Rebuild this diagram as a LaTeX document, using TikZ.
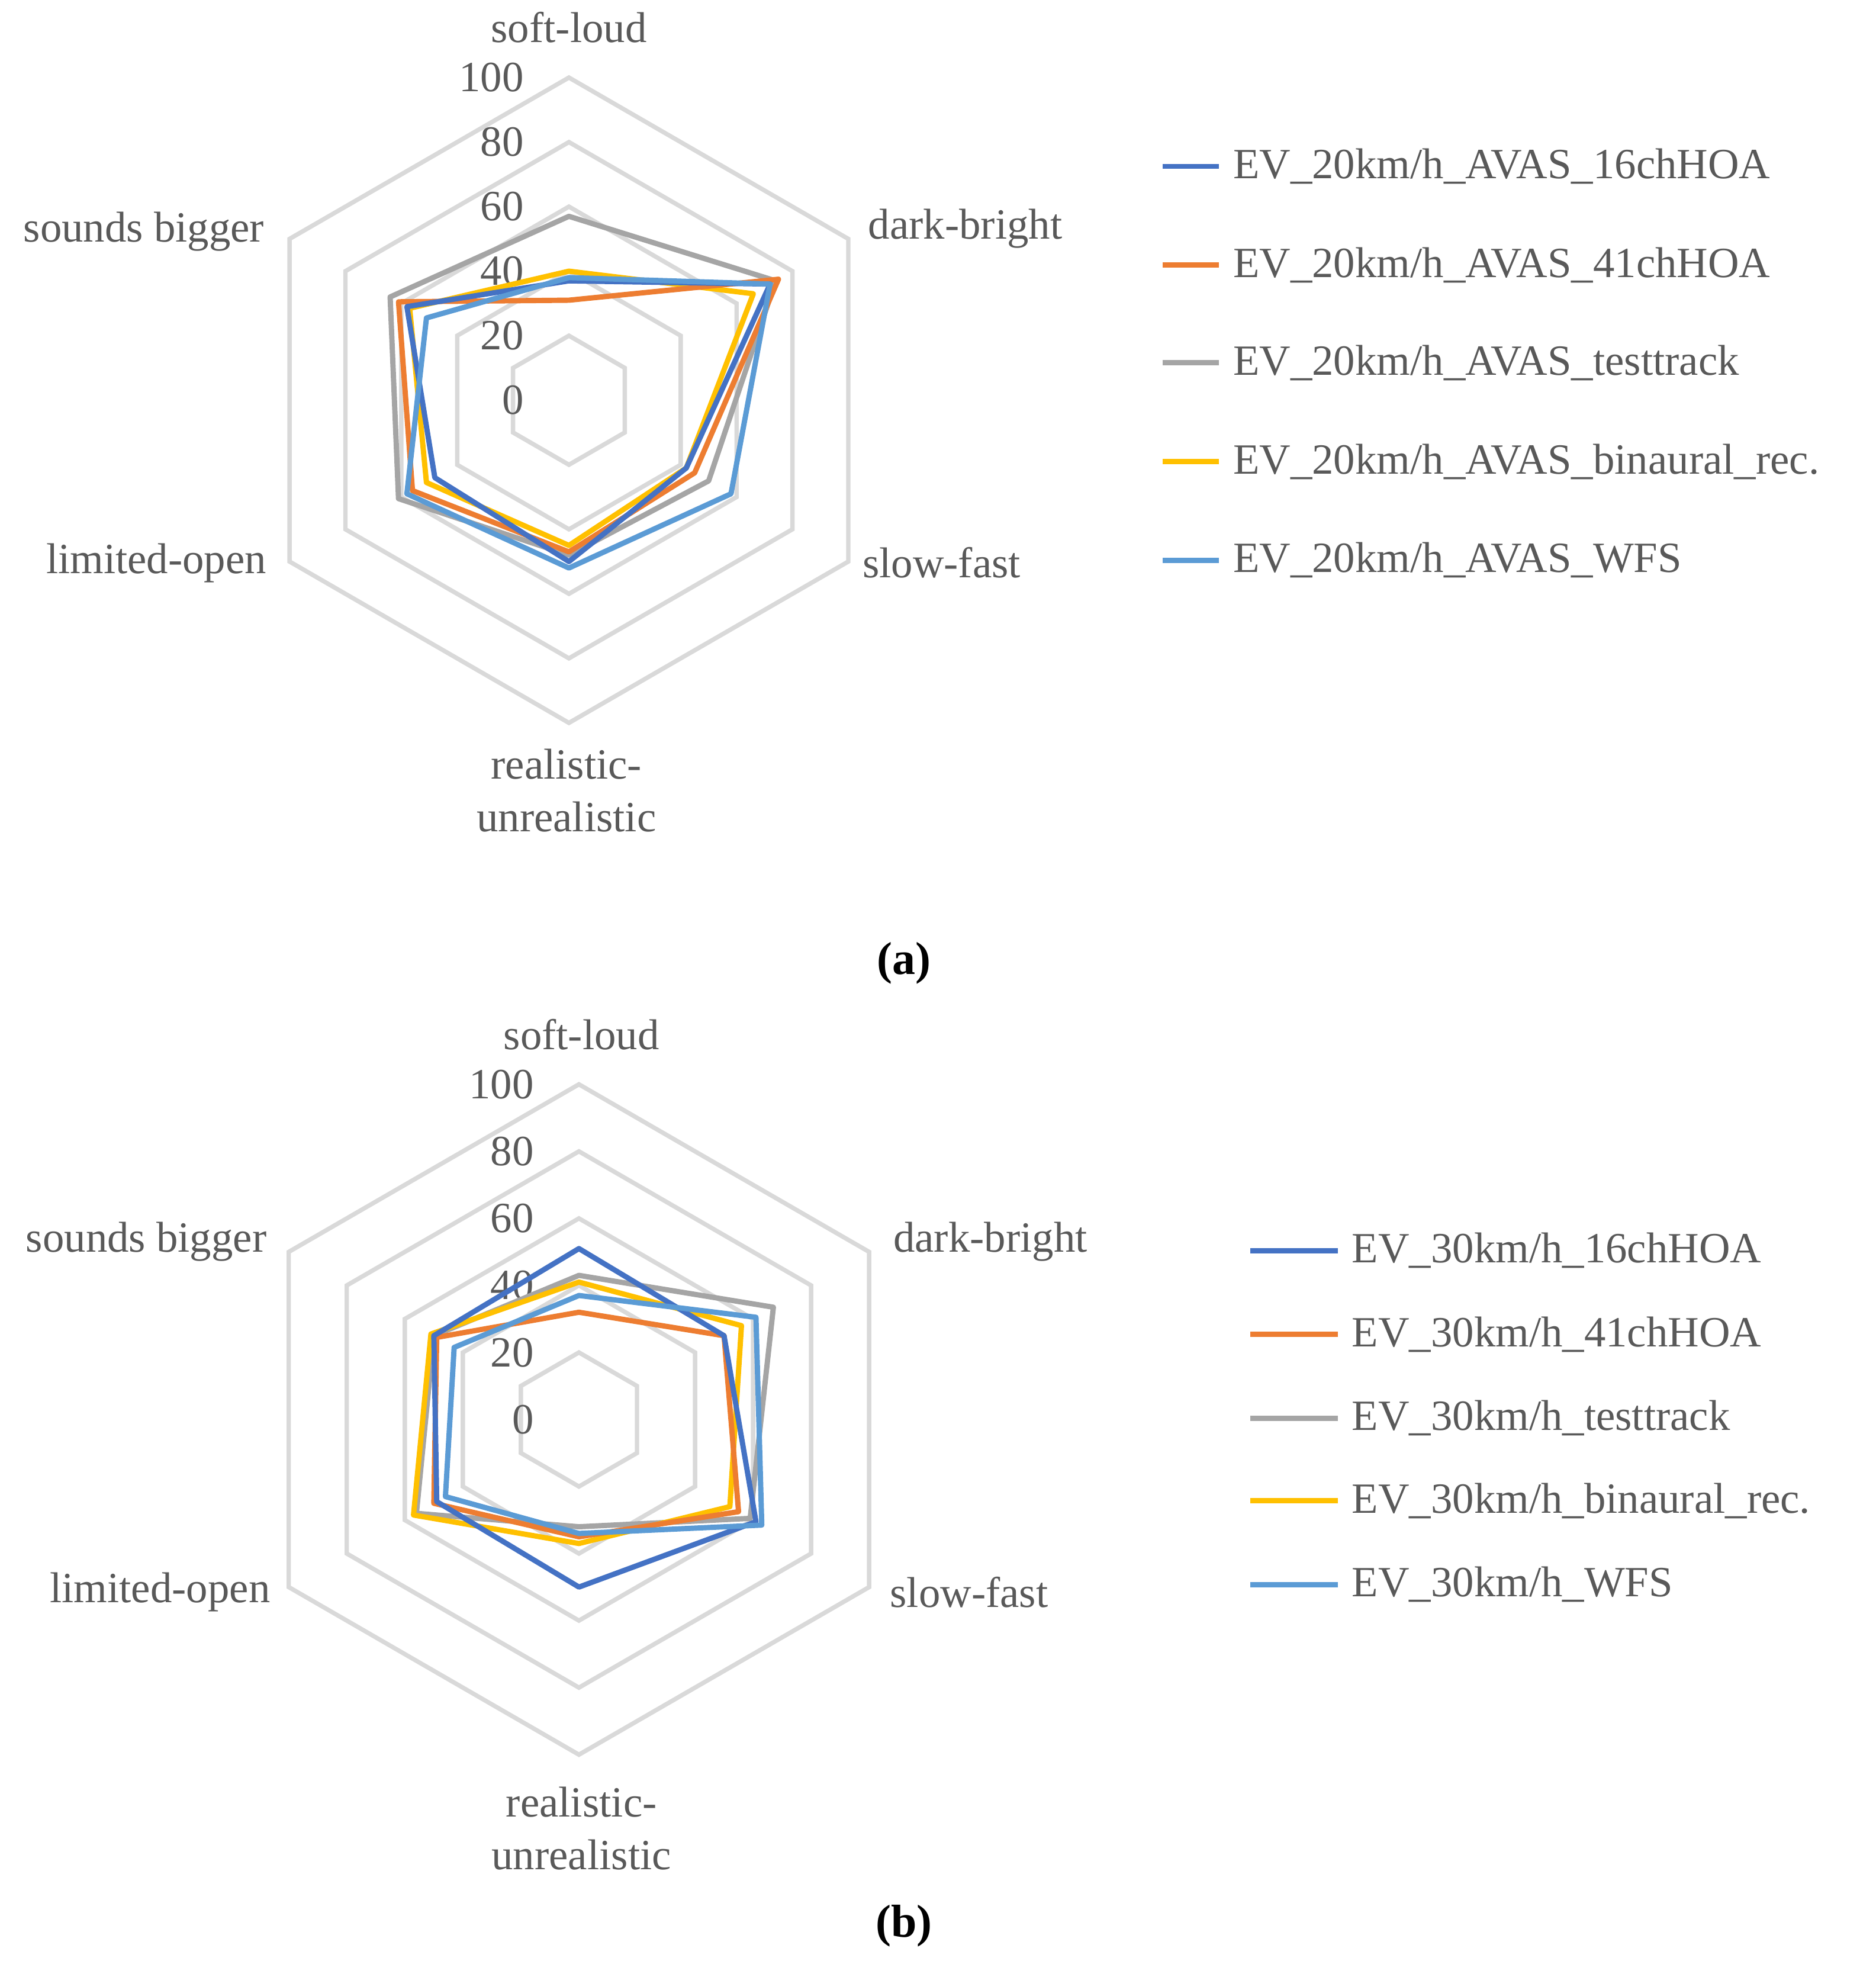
\documentclass[tikz,border=0pt]{standalone}
\usepackage{fontspec}
\setmainfont{Liberation Serif}
\usetikzlibrary{calc}
\definecolor{cA}{HTML}{4472C4}
\definecolor{cB}{HTML}{ED7D31}
\definecolor{cC}{HTML}{A5A5A5}
\definecolor{cD}{HTML}{FFC000}
\definecolor{cE}{HTML}{5B9BD5}
\definecolor{grd}{HTML}{D9D9D9}
\definecolor{txt}{HTML}{595959}
\newcommand\rplot[3]{%
  \foreach \v [count=\i] in {#2} {\coordinate (p\i) at ({90-60*(\i-1)}:{\v*#3});}
  \draw[dat,#1] (p1)--(p2)--(p3)--(p4)--(p5)--(p6)--cycle;}
\newcommand\rgrid[1]{%
  \foreach \g in {20,40,60,80,100} {\draw[grd,line width=1pt] (90:{\g*#1}) \foreach \k in {1,...,5} {-- ({90-60*\k}:{\g*#1})} -- cycle;}
  \foreach \g in {0,20,40,60,80,100} {\node[lab,anchor=east] (t\g) at ({-32},{\g*#1}) {\g};}}
\begin{document}
\begin{tikzpicture}[x=0.01cm,y=0.01cm,
  lab/.style={text=txt,font=\fontsize{9.8}{12}\selectfont,inner sep=1pt,align=center},
  dat/.style={line width=1.2pt,line join=round},
  leg/.style={line width=1.2pt}]
\useasboundingbox (0,0) rectangle (1500,-1568);
% ---- (a)
\begin{scope}[shift={(455,-320)}]
\rgrid{2.58}
\rplot{cC}{57,74,50,48,61,64}{2.58}
\rplot{cD}{40,66,42,45,51,57}{2.58}
\rplot{cB}{31,75,45,47,56,61}{2.58}
\rplot{cA}{37,72,42,50,48,58}{2.58}
\rplot{cE}{38,72,58,52,58,51}{2.58}
\end{scope}
\node[lab] (a1) at (455,-22) {soft-loud};
\node[lab] (a2) at (772,-183) {dark-bright};
\node[lab] (a3) at (753,-450) {slow-fast};
\node[lab] (a4) at (453,-632) {realistic-\\unrealistic};
\node[lab] (a5) at (125,-450) {limited-open};
\node[lab] (a6) at (115,-185) {sounds bigger};
\foreach \c/\t/\y in {cA/16chHOA/133,cB/41chHOA/212,cC/testtrack/290,cD/binaural\_rec./369,cE/WFS/448}{
  \coordinate (la\y) at (930,-\y); \coordinate (lb\y) at (975,-\y);
  \draw[leg,\c] (la\y) -- (lb\y);
  \node[lab,anchor=west] (lt\y) at (982,-\y) {EV\_20km/h\_AVAS\_\t};}
\node[font=\fontsize{10.5}{12}\selectfont\bfseries] (ca) at (723,-770) {(a)};
% ---- (b)
\begin{scope}[shift={(463,-1135)}]
\rgrid{2.68}
\rplot{cC}{43,67,59,32,56,50}{2.68}
\rplot{cD}{41,56,52,37,57,51}{2.68}
\rplot{cB}{32,50,55,35,50,49}{2.68}
\rplot{cA}{51,50,61,50,49,50}{2.68}
\rplot{cE}{37,61,63,34,46,43}{2.68}
\end{scope}
\node[lab] (b1) at (465,-827) {soft-loud};
\node[lab] (b2) at (792,-993) {dark-bright};
\node[lab] (b3) at (775,-1273) {slow-fast};
\node[lab] (b4) at (465,-1462) {realistic-\\unrealistic};
\node[lab] (b5) at (128,-1273) {limited-open};
\node[lab] (b6) at (117,-993) {sounds bigger};
\foreach \c/\t/\y in {cA/16chHOA/1000,cB/41chHOA/1067,cC/testtrack/1134,cD/binaural\_rec./1200,cE/WFS/1267}{
  \coordinate (ma\y) at (1000,-\y); \coordinate (mb\y) at (1070,-\y);
  \draw[leg,\c] (ma\y) -- (mb\y);
  \node[lab,anchor=west] (mt\y) at (1077,-\y) {EV\_30km/h\_\t};}
\node[font=\fontsize{10.5}{12}\selectfont\bfseries] (cb) at (723,-1540) {(b)};
\end{tikzpicture}
\end{document}
